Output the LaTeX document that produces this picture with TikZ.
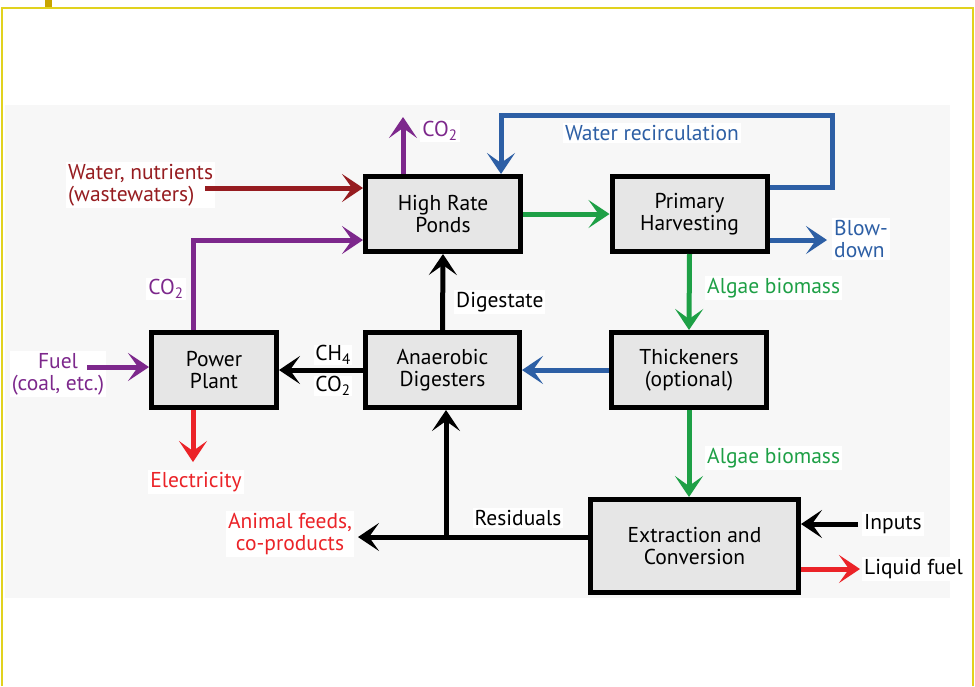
\documentclass[tikz,border=0pt]{standalone}
\usepackage{fontspec}
\setmainfont{PT Sans}
\usetikzlibrary{arrows.meta,positioning}

\definecolor{wred}{RGB}{150,28,32}
\definecolor{purp}{RGB}{125,40,140}
\definecolor{wblue}{RGB}{45,95,165}
\definecolor{agreen}{RGB}{30,160,70}
\definecolor{ered}{RGB}{235,35,40}
\definecolor{boxgrey}{RGB}{230,230,230}
\definecolor{framey}{RGB}{225,210,30}
\definecolor{ticky}{RGB}{200,165,0}

\tikzset{
  unit/.style={draw=black, line width=5pt, fill=boxgrey, minimum width=155pt,
    minimum height=75pt, align=center, inner sep=2pt, font=\fontsize{21.5}{22}\selectfont},
  flow/.style={line width=5pt, -{Stealth[length=21pt,width=28pt,inset=10pt]}},
  lbl/.style={fill=white, inner sep=2pt, align=center, font=\fontsize{21.5}{22}\selectfont},
}

\begin{document}
\begin{tikzpicture}[x=1pt,y=-1pt]
	\useasboundingbox (0,0) rectangle (975,686);
	% frame and light backdrop
	\fill[ticky] (45,0) rectangle (52,8);
	\draw[framey, line width=1.5pt] (2,686) -- (2,8) -- (973,8) -- (973,686);
	\fill[black!3] (5,105) rectangle (950,598);

	% process units
	\node[unit] (hrp) at (443,214) {High Rate\\Ponds};
	\node[unit] (ph) at (689.5,214) {Primary\\Harvesting};
	\node[unit, minimum width=125pt] (pp) at (214,370) {Power\\Plant};
	\node[unit, minimum width=154pt] (ad) at (442.5,370) {Anaerobic\\Digesters};
	\node[unit] (th) at (689,370) {Thickeners\\(optional)};
	\node[unit, minimum width=208pt, minimum height=93pt] (ec) at (694.5,546) {Extraction and\\Conversion};

	% free ends
	\coordinate (wnin) at (205,188);
	\coordinate (ppco) at (193,240);
	\coordinate (co2top) at (403,117);
	\coordinate (wrc) at (832,115);
	\coordinate (bd) at (827,240);
	\coordinate (fuel) at (87,367);
	\coordinate (elec) at (193,462);
	\coordinate (feed) at (358,537);
	\coordinate (rsj) at (446,537);
	\coordinate (inp) at (858,524);
	\coordinate (lf) at (860,569);

	% labels
	\node[lbl, text=wred, align=left, anchor=west] (wnl) at (66,185) {Water, nutrients\\(wastewaters)};
	\node[lbl, text=purp] (ppcol) at (166,289) {CO\textsubscript{2}};
	\node[lbl, text=purp] (co2l) at (440,131) {CO\textsubscript{2}};
	\node[lbl, text=wblue] (wrcl) at (652,133) {Water recirculation};
	\node[lbl, text=wblue, align=left, anchor=west] (bdl) at (832,239) {Blow-\\down};
	\node[lbl, text=agreen, anchor=west] (ab1) at (705,288) {Algae biomass};
	\node[lbl, anchor=west] (dgl) at (454,302) {Digestate};
	\node[lbl, inner sep=1pt] (ch4l) at (333,355) {CH\textsubscript{4}};
	\node[lbl, inner sep=1pt] (adco) at (333,386) {CO\textsubscript{2}};
	\node[lbl, text=purp] (fuell) at (58,374) {Fuel\\(coal, etc.)};
	\node[lbl, text=ered] (elecl) at (196,482) {Electricity};
	\node[lbl, text=ered] (feedl) at (290,534) {Animal feeds,\\co-products};
	\node[lbl] (rsl) at (518,518) {Residuals};
	\node[lbl, text=agreen, anchor=west] (ab2) at (705,458) {Algae biomass};
	\node[lbl, anchor=west] (inpl) at (862,524) {Inputs};
	\node[lbl, anchor=west] (lfl) at (862,569) {Liquid fuel};

	% flows
	\draw[flow, wred] (wnin) -- (wnin -| hrp.west);
	\draw[flow, purp] (pp.north -| ppco) |- (ppco -| hrp.west);
	\draw[flow, purp] (hrp.north -| co2top) -- (co2top);
	\draw[flow, wblue] ([yshift=27pt]ph.east) -| (wrc) -| ([xshift=58pt]hrp.north);
	\draw[flow, agreen] (hrp.east) -- (ph.west);
	\draw[flow, wblue] (ph.east |- bd) -- (bd);
	\draw[flow, agreen] (ph.south) -- (th.north);
	\draw[flow, wblue] (th.west) -- (ad.east);
	\draw[flow] (ad.north) -- (hrp.south);
	\draw[flow] (ad.west) -- (pp.east);
	\draw[flow, purp] (fuel) -- (fuel -| pp.west);
	\draw[flow, ered] (pp.south -| elec) -- (elec);
	\draw[flow] (feed -| ec.west) -- (feed);
	\draw[flow] (rsj) -- (rsj |- ad.south);
	\draw[flow, agreen] (th.south) -- (th.south |- ec.north);
	\draw[flow] (inp) -- (inp -| ec.east);
	\draw[flow, ered] (lf -| ec.east) -- (lf);
\end{tikzpicture}
\end{document}
